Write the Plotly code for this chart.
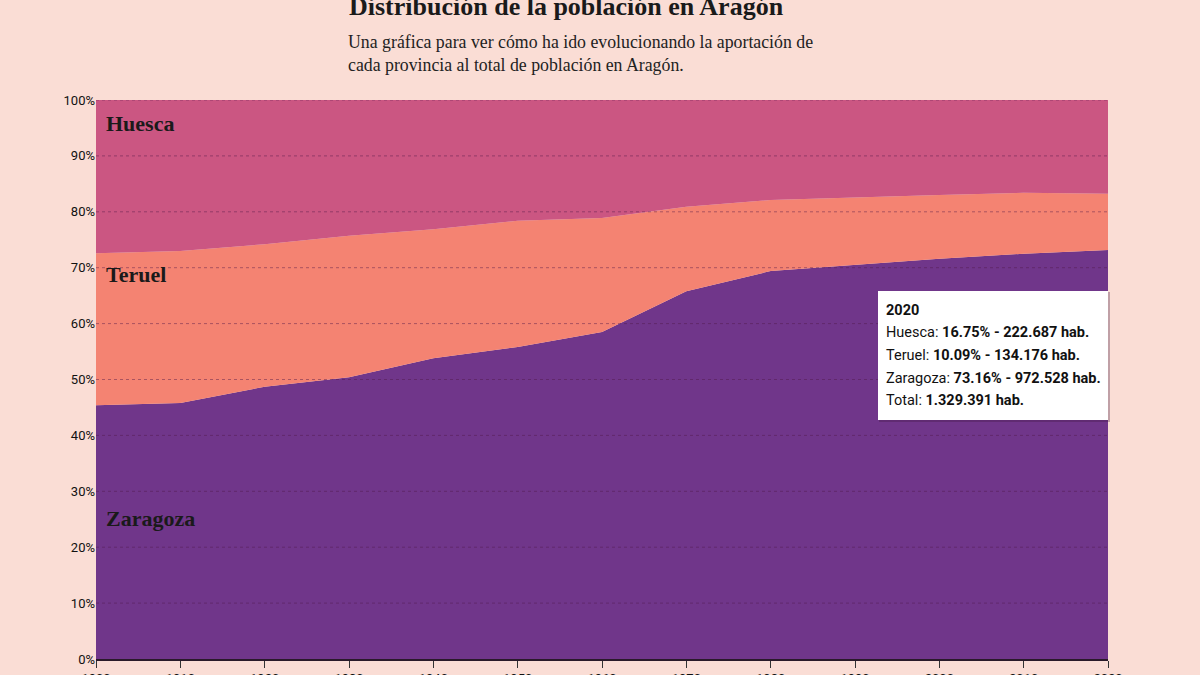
import plotly.graph_objects as go

# ---- data ----
years = [1900, 1910, 1920, 1930, 1940, 1950, 1960, 1970, 1980, 1990, 2000, 2010, 2020]
zaragoza = [45.4, 45.8, 48.7, 50.4, 53.8, 55.8, 58.5, 65.8, 69.4, 70.5, 71.6, 72.5, 73.16]
teruel = [27.2, 27.2, 25.5, 25.3, 23.1, 22.6, 20.4, 15.1, 12.7, 12.1, 11.4, 10.9, 10.09]
huesca = [27.4, 27.0, 25.8, 24.3, 23.1, 21.6, 21.1, 19.1, 17.9, 17.4, 17.0, 16.6, 16.75]

provinces = ["Huesca", "Teruel", "Zaragoza"]
pct_2020 = [16.75, 10.09, 73.16]
pop_2020 = [222687, 134176, 972528]
total_2020 = 1329391
y_ticks = [0, 10, 20, 30, 40, 50, 60, 70, 80, 90, 100]

colors = {"Huesca": "#CB5682", "Teruel": "#F48372", "Zaragoza": "#70368A"}
BG = "#FADDD5"

# plot area in pixels
L, R, T, B = 96, 1108, 100, 659
W, H = 1200, 675


def px(xp):
    return (xp - L) / (R - L)


def py(yp):
    return (B - yp) / (B - T)


fig = go.Figure()
for name, vals in [("Zaragoza", zaragoza), ("Teruel", teruel), ("Huesca", huesca)]:
    fig.add_trace(go.Scatter(
        x=years, y=vals, name=name, mode="lines",
        stackgroup="one", groupnorm="percent",
        line=dict(width=0, color=colors[name]),
        fillcolor=colors[name], hoverinfo="skip",
    ))

serif = "Liberation Serif, DejaVu Serif, serif"
sans = "Roboto, Liberation Sans, sans-serif"

ann = []
# title & subtitle
ann.append(dict(text="<b>Distribución de la población en Aragón</b>", x=px(347), y=py(7),
                xref="paper", yref="paper", xanchor="left", yanchor="middle",
                showarrow=False, font=dict(family=serif, size=26, color="#1a1a1a")))
ann.append(dict(text="Una gráfica para ver cómo ha ido evolucionando la aportación de<br>"
                     "cada provincia al total de población en Aragón.",
                x=px(346), y=py(53), xref="paper", yref="paper", xanchor="left",
                yanchor="middle", align="left", showarrow=False,
                font=dict(family=serif, size=17.8, color="#222222")))

# in-area labels
for name, ypix in [("Huesca", 123), ("Teruel", 274), ("Zaragoza", 518)]:
    ann.append(dict(text="<b>" + name + "</b>", x=px(104), y=py(ypix), xref="paper", yref="paper",
                    xanchor="left", yanchor="middle", showarrow=False,
                    font=dict(family=serif, size=22, color="#1a1a1a")))


def fmt_int(n):
    return f"{n:,}".replace(",", ".")


lines = ["<b>2020</b>"]
for name, pc, pop in zip(provinces, pct_2020, pop_2020):
    lines.append(f"{name}: <b>{pc:.2f}% - {fmt_int(pop)} hab.</b>")
lines.append(f"Total: <b>{fmt_int(total_2020)} hab.</b>")

for i, ln in enumerate(lines):
    ann.append(dict(text=ln, x=px(884), y=py(310 + i * 22.7), xref="paper", yref="paper",
                    xanchor="left", yanchor="middle", showarrow=False,
                    font=dict(family=sans, size=14.5, color="#111111")))

shapes = []
# dotted gridlines drawn above the areas
for v in y_ticks[1:]:
    shapes.append(dict(type="line", xref="paper", yref="y", x0=0, x1=1, y0=v, y1=v,
                       line=dict(color="rgba(80,25,70,0.45)", width=1, dash="dot"), layer="above"))
# tooltip box with soft shadow
shapes += [
    dict(type="rect", xref="paper", yref="paper", x0=px(879), x1=px(1110), y0=py(292), y1=py(422),
         fillcolor="rgba(60,20,60,0.30)", line=dict(width=0), layer="above"),
    dict(type="rect", xref="paper", yref="paper", x0=px(878), x1=px(1108), y0=py(291), y1=py(420),
         fillcolor="white", line=dict(width=0), layer="above"),
]

fig.update_layout(
    width=W, height=H,
    margin=dict(l=L, r=W - R, t=T, b=H - B, autoexpand=False),
    paper_bgcolor=BG, plot_bgcolor=BG,
    showlegend=False, hovermode=False,
    annotations=ann, shapes=shapes,
    xaxis=dict(range=[1900, 2020], tickvals=years, ticks="outside", ticklen=7, tickcolor="#333",
               showline=True, linecolor="#2a1a2a", linewidth=1.5, showgrid=False, zeroline=False,
               automargin=False, tickfont=dict(family=sans, size=13, color="#111")),
    yaxis=dict(range=[0, 100], tickvals=y_ticks, ticktext=[f"{v}%" for v in y_ticks],
               showgrid=False, zeroline=False, showline=False, automargin=False,
               tickfont=dict(family=sans, size=13, color="#111")),
)

fig.write_html("out.html")
